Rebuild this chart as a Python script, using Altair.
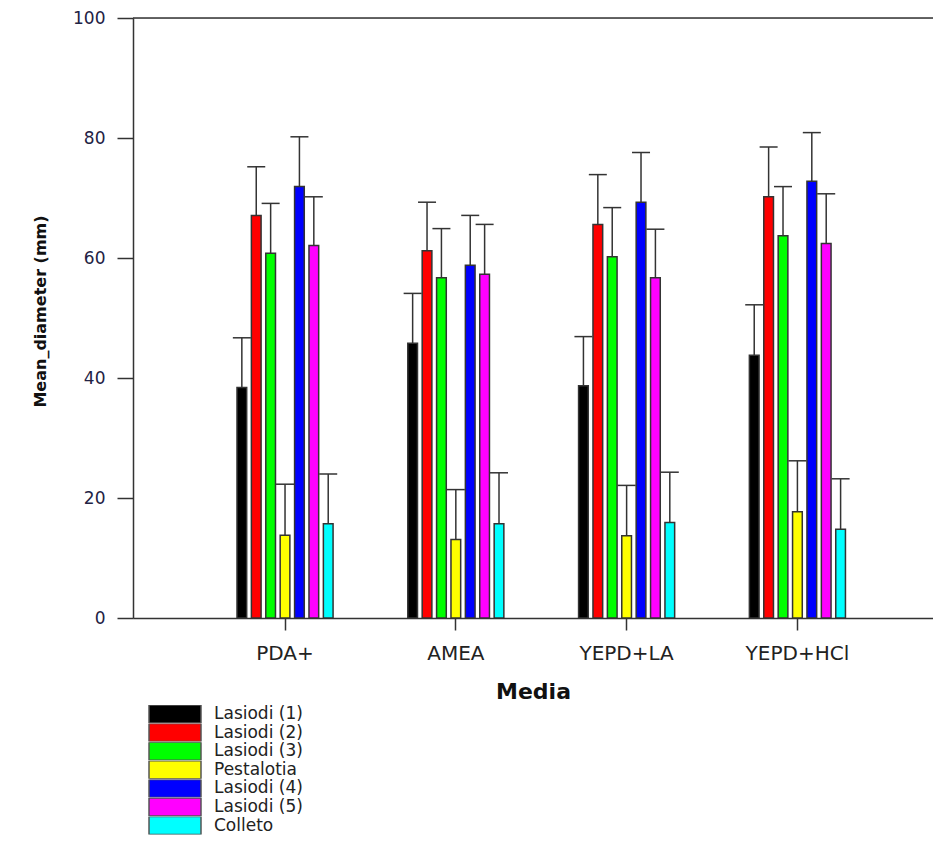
import altair as alt
import pandas as pd

media = ["PDA+", "AMEA", "YEPD+LA", "YEPD+HCl"]
strains = ["Lasiodi (1)", "Lasiodi (2)", "Lasiodi (3)", "Pestalotia",
           "Lasiodi (4)", "Lasiodi (5)", "Colleto"]
colors = ["#000000", "#ff0000", "#00ff00", "#ffff00", "#0000ff", "#ff00ff", "#00ffff"]

mean_pda = [38.4, 67.1, 60.8, 13.8, 71.9, 62.1, 15.7]
mean_amea = [45.8, 61.2, 56.7, 13.1, 58.8, 57.3, 15.7]
mean_yepd_la = [38.7, 65.6, 60.2, 13.7, 69.3, 56.7, 15.9]
mean_yepd_hcl = [43.8, 70.2, 63.7, 17.7, 72.8, 62.4, 14.8]

err_pda = [8.3, 8.1, 8.3, 8.5, 8.3, 8.1, 8.3]
err_amea = [8.3, 8.1, 8.2, 8.3, 8.3, 8.3, 8.5]
err_yepd_la = [8.2, 8.3, 8.2, 8.4, 8.3, 8.1, 8.4]
err_yepd_hcl = [8.4, 8.3, 8.2, 8.5, 8.1, 8.3, 8.4]

y_ticks = [0, 20, 40, 60, 80, 100]

rows = []
for m, means, errs in zip(media,
                          [mean_pda, mean_amea, mean_yepd_la, mean_yepd_hcl],
                          [err_pda, err_amea, err_yepd_la, err_yepd_hcl]):
    for s, v, e in zip(strains, means, errs):
        rows.append({"Media": m, "Strain": s, "Mean": v, "Upper": round(v + e, 2)})
df = pd.DataFrame(rows)

LINE = "#333333"
FONT = "DejaVu Sans"

x_axis = alt.Axis(title="Media", labelAngle=0, tickSize=12, labelPadding=13,
                  labelFont=FONT, labelFontSize=20, labelColor="#222222",
                  titleFont=FONT, titleFontSize=22, titleFontWeight="bold",
                  titleColor="#111111", titleY=80, titleBaseline="alphabetic",
                  domainColor=LINE, tickColor=LINE, domainWidth=1.5, tickWidth=1.5)
x_scale = alt.Scale(paddingInner=0.41, paddingOuter=0.547, align=0.544)
x = alt.X("Media:N", sort=media, scale=x_scale, axis=x_axis)
xo = alt.XOffset("Strain:N", sort=strains,
                 scale=alt.Scale(paddingInner=0.326, paddingOuter=0.163))

y_axis = alt.Axis(title="Mean_diameter (mm)", values=y_ticks, grid=False,
                  tickSize=16, labelPadding=12, labelFont=FONT, labelFontSize=17,
                  labelColor="#222244", titleFont=FONT, titleFontSize=16,
                  titleFontWeight="bold", titleColor="#111111", titleAngle=-90,
                  titleX=-88, titleY=293, titleAlign="center",
                  titleBaseline="alphabetic", domainColor=LINE, tickColor=LINE,
                  domainWidth=1.5, tickWidth=1.5)
y_scale = alt.Scale(domain=[0, 100], nice=False)

legend = alt.Legend(title=None, orient="none", legendX=15, legendY=687,
                    symbolType="M-1,-0.346H1V0.346H-1Z", symbolSize=2704,
                    symbolStrokeColor="#555555", symbolStrokeWidth=1.5,
                    symbolOpacity=1, clipHeight=18,
                    labelFont=FONT, labelFontSize=17, labelColor="#222222",
                    labelOffset=12, rowPadding=0.6, padding=0, labelLimit=300)
color = alt.Color("Strain:N", sort=strains,
                  scale=alt.Scale(domain=strains, range=colors), legend=legend)

base = alt.Chart(df)

bars = base.mark_bar(stroke=LINE, strokeWidth=1.5, opacity=1).encode(
    x=x, xOffset=xo,
    y=alt.Y("Mean:Q", scale=y_scale, axis=y_axis, title="Mean_diameter (mm)"),
    color=color,
)
err = base.mark_rule(color=LINE, strokeWidth=1.5).encode(
    x=x, xOffset=xo,
    y=alt.Y("Mean:Q", scale=y_scale, axis=y_axis, title="Mean_diameter (mm)"),
    y2="Upper:Q",
)
cap = base.mark_tick(color=LINE, thickness=1.5, size=18, orient="horizontal",
                     opacity=1).encode(
    x=x, xOffset=xo,
    y=alt.Y("Upper:Q", scale=y_scale, axis=y_axis, title="Mean_diameter (mm)"),
)
top = alt.Chart(pd.DataFrame({"top": [y_ticks[-1]]})).mark_rule(
    color=LINE, strokeWidth=1.5).encode(
    y=alt.Y("top:Q", scale=y_scale, axis=y_axis, title="Mean_diameter (mm)"),
)

chart = alt.layer(bars, err, cap, top).properties(
    width=800, height=600,
    autosize=alt.AutoSizeParams(type="none"),
    padding={"left": 125, "top": 10, "right": 0, "bottom": 218},
).configure_view(stroke=None).configure(background="white")

chart.save("out.html", embed_options={"renderer": "svg", "actions": False})
